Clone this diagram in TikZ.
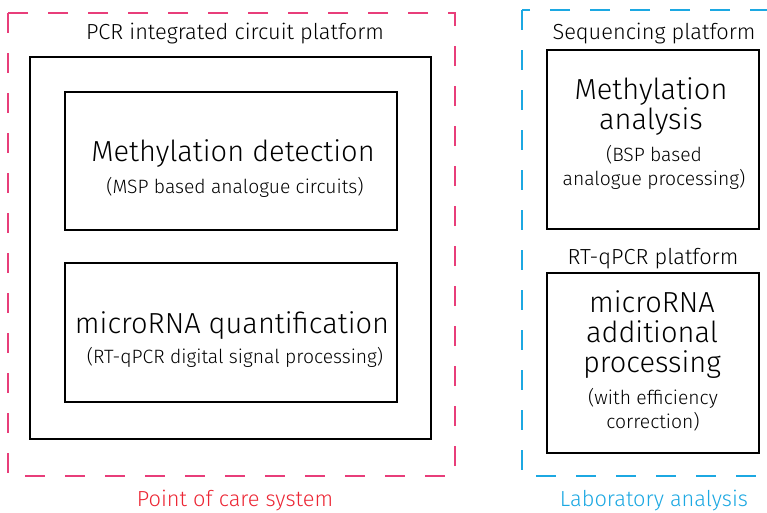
\documentclass[tikz,border=0pt]{standalone}
\usepackage{fontspec}
\setmainfont{Fira Sans}[UprightFont=* Light]
\definecolor{pocpink}{RGB}{232,62,122}
\definecolor{pocred}{RGB}{236,38,52}
\definecolor{labblue}{RGB}{28,168,226}
\tikzset{
  group/.style={line width=1.5pt, dash pattern=on 20pt off 20pt},
  box/.style={draw=black, line width=1.4pt},
  lbl/.style={font=\fontsize{21.8}{24}\selectfont, inner sep=0pt, anchor=center},
  big/.style={font=\fontsize{29}{30}\selectfont, inner sep=0pt, anchor=center, align=center},
  sub/.style={font=\fontsize{19.3}{24}\selectfont, inner sep=0pt, anchor=center, align=center},
}
\begin{document}
\begin{tikzpicture}[x=1pt,y=-1pt]
\useasboundingbox (0,0) rectangle (767,512);
\begin{scope}
\clip (0,0) rectangle (767,512);
% groups
\draw[group, draw=pocpink] (8,13) rectangle (455,476);
\draw[group, draw=labblue] (522,10) rectangle (800,476);
\end{scope}
% left side
\node[lbl] (pcrt) at (235,33.5) {PCR integrated circuit platform};
\draw[box] (30,57) rectangle (431,439);
\draw[box] (65,92) rectangle (397,230);
\node[big] (md) at (233,153.5) {Methylation detection};
\node[sub] (mds) at (235,187) {(MSP based analogue circuits)};
\draw[box] (65,263) rectangle (397,402);
\node[big] (mq) at (232,325.5) {microRNA quantification};
\node[sub] (mqs) at (235,357) {(RT-qPCR digital signal processing)};
\node[lbl, text=pocred] (poc) at (235,500.5) {Point of care system};
% right side
\node[lbl] (seqt) at (654,33.5) {Sequencing platform};
\draw[box] (547,50) rectangle (759,229);
\node[big] (ma) at (651,107) {Methylation\\analysis};
\node[sub] (mas) at (654,167) {(BSP based\\analogue processing)};
\node[lbl] (rtt) at (653,258.5) {RT-qPCR platform};
\draw[box] (547,273) rectangle (759,453);
\node[big] (mr) at (652,335) {microRNA\\additional\\processing};
\node[sub] (mrs) at (653,410) {(with efficiency\\correction)};
\node[lbl, text=labblue] (lab) at (654,500.5) {Laboratory analysis};
\end{tikzpicture}
\end{document}
